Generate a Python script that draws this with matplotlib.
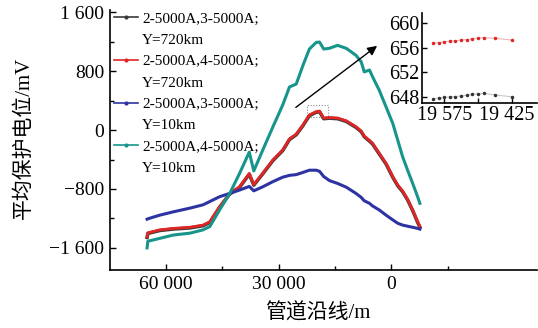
import numpy as np
import matplotlib
matplotlib.use("Agg")
import matplotlib.pyplot as plt
import matplotlib.transforms as mtransforms
from matplotlib.lines import Line2D
from matplotlib.patches import Rectangle

plt.rcParams['font.family'] = ['Liberation Serif', 'Noto Sans CJK SC']
plt.rcParams['axes.unicode_minus'] = True

# ------------------------------
# DATA
# ------------------------------
dist = [65000, 64800, 61600, 58000, 53600, 50100, 48300, 45700, 43000, 40400,
        37800, 36600, 34200, 31500, 28900, 27100, 25300, 23500, 21800, 20000,
        19100, 18000, 16500, 14300, 12000, 9400, 8000, 7200, 5800, 5000,
        3200, 1400, -400, -1700, -3000, -4300, -5700, -7000, -7600]

# 2-5000A,4-5000A; Y=10km
teal_10 = [-1600, -1510, -1470, -1425, -1400, -1355, -1310, -1085, -860, -590,
           -300, -555, -270, 45, 340, 585, 625, 880, 1100, 1190,
           1195, 1100, 1110, 1150, 1110, 1015, 925, 790, 815, 725,
           540, 315, 90, -135, -360, -540, -725, -905, -995]

# 2-5000A,4-5000A; Y=720km
red_720 = [-1450, -1395, -1355, -1335, -1320, -1290, -1245, -1040, -860, -770,
           -590, -740, -585, -405, -270, -120, -55, 70, 205, 250,
           258, 163, 170, 163, 126, 45, -14, -81, -142, -180,
           -316, -452, -633, -746, -827, -936, -1085, -1243, -1309]

# 2-5000A,3-5000A; Y=720km
black_720 = [-1459, -1404, -1364, -1344, -1329, -1299, -1254, -1049, -869, -779,
             -599, -749, -594, -414, -279, -129, -64, 61, 196, 241,
             249, 154, 161, 154, 117, 36, -23, -90, -151, -189,
             -325, -461, -642, -755, -836, -945, -1094, -1252, -1318]

# 2-5000A,3-5000A; Y=10km
blue_10 = [-1210, -1205, -1155, -1110, -1060, -1015, -970, -905, -860, -815,
           -765, -825, -770, -700, -640, -615, -605, -575, -545, -545,
           -560, -630, -685, -725, -775, -860, -915, -960, -995, -1030,
           -1085, -1155, -1220, -1265, -1290, -1305, -1320, -1335, -1345]

# inset (zoom around 19 500 m)
inset_x = [19600, 19587.5, 19575, 19562.5, 19550, 19537.5, 19525, 19512.5,
           19500, 19487.5, 19462.5, 19425]
inset_red = [656.7, 656.8, 656.9, 657.05, 657.1, 657.2, 657.3, 657.4,
             657.5, 657.6, 657.5, 657.2]
inset_black = [647.7, 647.8, 647.9, 648.0, 648.05, 648.15, 648.25, 648.4,
               648.5, 648.55, 648.3, 648.0]

labels = ["2-5000A,3-5000A;", "Y=720km",
          "2-5000A,4-5000A;", "Y=720km",
          "2-5000A,3-5000A;", "Y=10km",
          "2-5000A,4-5000A;", "Y=10km"]

c_black = "#3a3a3a"
c_red = "#e02525"
c_blue = "#2d33a3"
c_teal = "#17958b"

# ------------------------------
# MAIN PLOT
# ------------------------------
fig = plt.figure(figsize=(5.38, 3.28), dpi=100)
ax = fig.add_axes([110/538, 1 - 270/328, 1 - 110/538 - 0.002, (270 - 10)/328])

ax.plot(dist, black_720, color=c_black, lw=2.5)
ax.plot(dist, red_720, color=c_red, lw=2.0)
ax.plot(dist, blue_10, color=c_blue, lw=2.2)
ax.plot(dist, teal_10, color=c_teal, lw=2.2)

ax.set_xlim(74870, -38760)
ax.set_ylim(-1900, 1630)

ax.set_xticks([60000, 30000, 0])
ax.set_xticklabels(["60 000", "30 000", "0"])
ax.set_xticks([45000, 15000, -15000], minor=True)
ax.set_yticks([-1600, -800, 0, 800, 1600])
ax.set_yticklabels(["\u22121 600", "\u2212800", "0", "800", "1 600"])
ax.set_yticks([-1200, -400, 400, 1200], minor=True)

for s in ["top", "right"]:
    ax.spines[s].set_visible(False)
for s in ["left", "bottom"]:
    ax.spines[s].set_linewidth(1.2)
ax.tick_params(which="both", direction="in", width=1, labelsize=14, pad=4)
ax.tick_params(which="major", length=4)
ax.tick_params(which="minor", length=3)

ax.set_xlabel("管道沿线/m", fontsize=15)
ax.set_ylabel("平均保护电位/mV", fontsize=15)
ax.xaxis.set_label_coords(0.486, -0.13)
ax.yaxis.set_label_coords(-0.178, 0.508)

# dotted zoom box + arrow
ax.add_patch(Rectangle((16900, 172), 22485 - 16900, 339 - 172, fill=False,
                       ls=(0, (1, 1.5)), lw=0.8, ec="#888888"))
ax.annotate("", xy=(3190, 1166), xytext=(26000, 285),
            arrowprops=dict(arrowstyle="-|>", color="black", lw=1,
                            mutation_scale=14))

# legend
colors = [c_black, None, c_red, None, c_blue, None, c_teal, None]
handles = []
for c in colors:
    if c is None:
        handles.append(Line2D([], [], color="none"))
    else:
        handles.append(Line2D([], [], color=c, lw=1.2, marker=".", markersize=4))
leg = ax.legend(handles, labels, loc="upper left", frameon=False,
                bbox_to_anchor=(114/538, 1 - 12/328), bbox_transform=fig.transFigure,
                fontsize=11, handlelength=1.55, handletextpad=0.3,
                labelspacing=0.5, borderpad=0, borderaxespad=0)

# ------------------------------
# INSET
# ------------------------------
axin = fig.add_axes([422/538, 1 - 103/328, 1 - 422/538 - 0.002, 90/328])
axin.plot(inset_x, inset_red, color="#f2b5b5", lw=0.8, marker=".",
          markersize=3, mfc=c_red, mec=c_red)
axin.plot(inset_x, inset_black, color="#c8c8c8", lw=0.8, marker=".",
          markersize=3, mfc="#333333", mec="#333333")
axin.set_xlim(19624, 19370)
axin.set_ylim(647.0, 661.6)
axin.set_xticks([19575, 19500, 19425])
axin.set_xticklabels(["19 575", "", "19 425"])
axin.set_yticks([648, 652, 656, 660])
for s in ["top", "right"]:
    axin.spines[s].set_visible(False)
for s in ["left", "bottom"]:
    axin.spines[s].set_linewidth(1.2)
axin.tick_params(direction="in", length=3.5, width=1, labelsize=14.5, pad=2)
axin.patch.set_alpha(0)

# keep the right-hand inset label inside the figure
shift = mtransforms.ScaledTranslation(-5/100, 0, fig.dpi_scale_trans)
lab = axin.get_xticklabels()[2]
lab.set_transform(lab.get_transform() + shift)

fig.savefig("out.png", dpi=100)
